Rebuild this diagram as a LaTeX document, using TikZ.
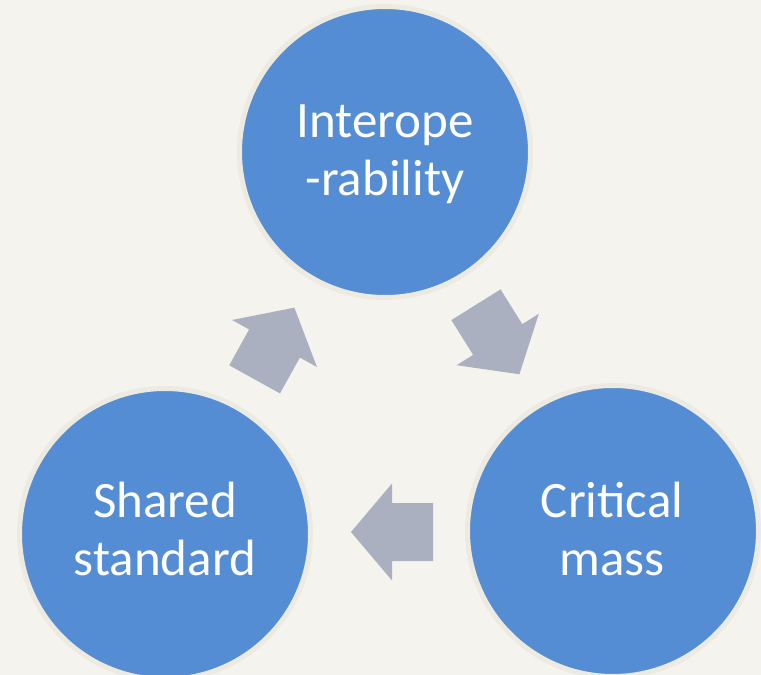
\documentclass[tikz,border=0pt]{standalone}
\usepackage{fontspec}
\setmainfont{Carlito}
\definecolor{paper}{HTML}{F4F3EE}
\definecolor{bubblefill}{HTML}{558DD4}
\definecolor{bubbleedge}{HTML}{ECEAE1}
\definecolor{arrowfill}{HTML}{AAB0C0}
\tikzset{
  bubble/.style={circle, fill=bubblefill, draw=bubbleedge, line width=5pt,
                 minimum size=291pt, inner sep=0pt},
  txt/.style={text=white, font=\fontsize{51}{58}\selectfont, inner sep=0pt, anchor=base},
  barrow/.pic={\fill[arrowfill] (41,0) -- (0,48.5) -- (0,29) -- (-41,29)
               -- (-41,-29) -- (0,-29) -- (0,-48.5) -- cycle;}
}
\begin{document}
\begin{tikzpicture}[x=1pt,y=-1pt]
\useasboundingbox (0,0) rectangle (761,675);
\clip (0,0) rectangle (761,675);
\fill[paper] (0,0) rectangle (761,675);
% circles
\node[bubble] (inter) at (385,152) {};
\node[bubble] (shared) at (165,534) {};
\node[bubble] (crit) at (613,531) {};
% labels
\node[txt] (interA) at (385,137) {Interope};
\node[txt] (interB) at (385,195) {-rability};
\node[txt] (sharedA) at (165,517) {Shared};
\node[txt] (sharedB) at (165,575) {standard};
\node[txt] (critA) at (612,517) {Critical};
\node[txt] (critB) at (612,575) {mass};
% block arrows
\pic[rotate=61] at (274.5,343.5) {barrow};
\pic[rotate=-58] at (497.7,339.5) {barrow};
\pic[rotate=180] at (392,532) {barrow};
\end{tikzpicture}
\end{document}
